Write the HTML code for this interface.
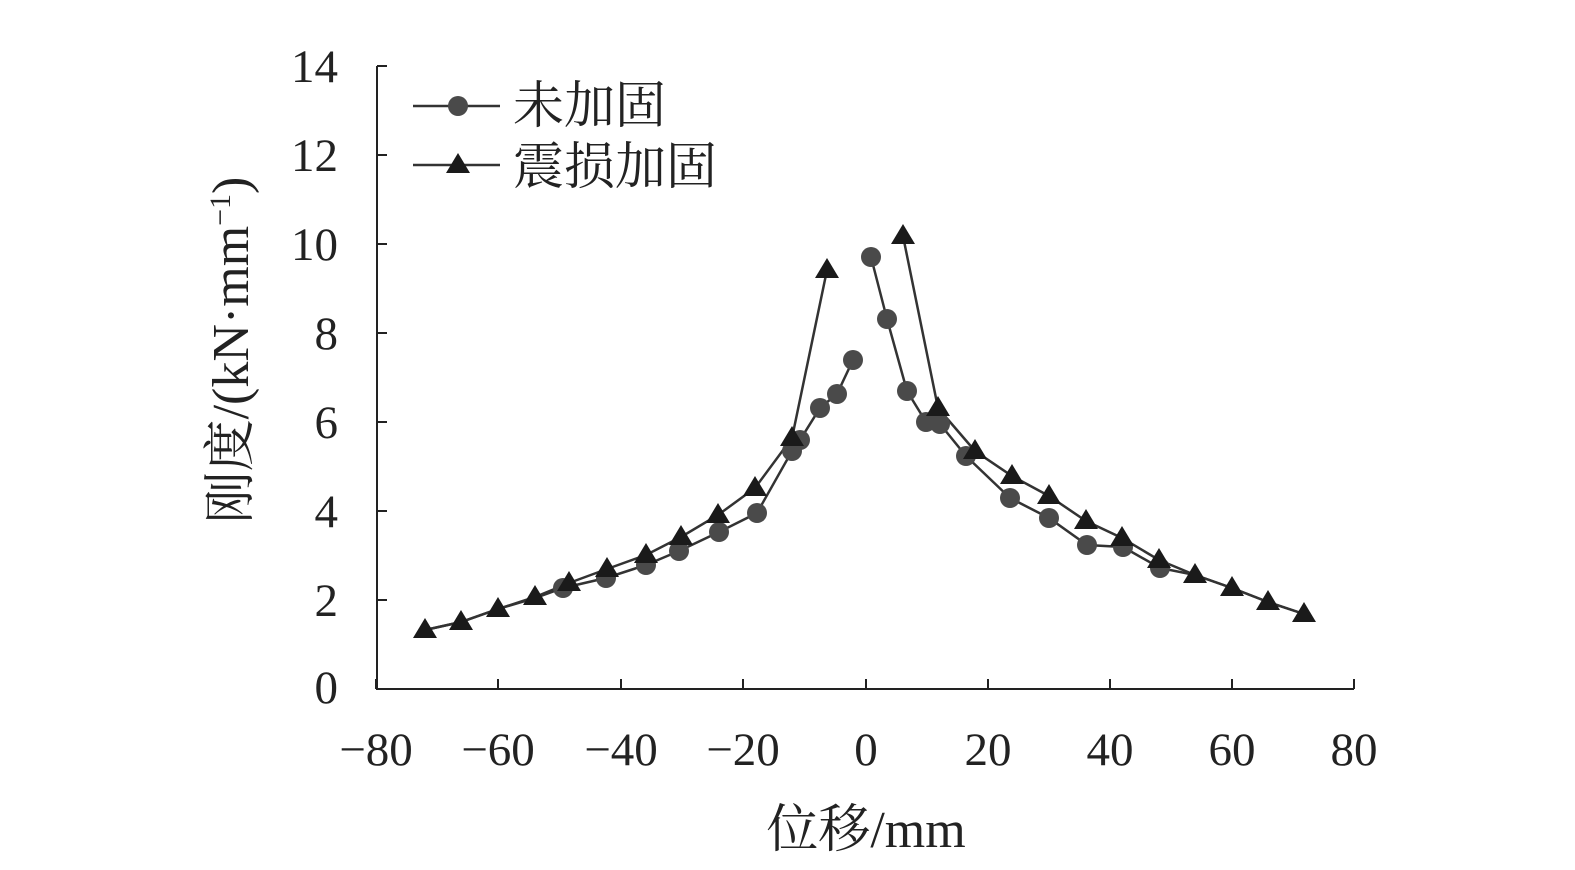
<!DOCTYPE html><html><head><meta charset="utf-8"><style>body{margin:0;background:#fff}svg{display:block}text{font-family:"Liberation Serif","Noto Serif CJK SC",serif;fill:#222}</style></head><body>
<svg width="1575" height="870" viewBox="0 0 1575 870">
<g stroke="#222" stroke-width="2" fill="none">
<path d="M377 66V689H1354"/>
<path d="M377 66h10M377 155h10M377 244h10M377 333h10M377 422h10M377 511h10M377 600h10"/>
<path d="M376 689v-10M498 689v-10M621 689v-10M743 689v-10M866 689v-10M988 689v-10M1110 689v-10M1232 689v-10M1354 689v-10"/>
</g>
<g font-size="47" text-anchor="end">
<text x="338" y="82">14</text><text x="338" y="171">12</text><text x="338" y="260">10</text><text x="338" y="349">8</text><text x="338" y="438">6</text><text x="338" y="527">4</text><text x="338" y="616">2</text><text x="338" y="703">0</text></g>
<g font-size="47" text-anchor="middle">
<text x="376" y="765">−80</text><text x="498" y="765">−60</text><text x="621" y="765">−40</text><text x="743" y="765">−20</text><text x="866" y="765">0</text><text x="988" y="765">20</text><text x="1110" y="765">40</text><text x="1232" y="765">60</text><text x="1354" y="765">80</text>
<text x="866" y="847" font-size="52">位移/mm</text></g>
<text transform="translate(248,350) rotate(-90)" font-size="52" text-anchor="middle">刚度/(kN·mm<tspan font-size="30" dy="-18">−1</tspan><tspan dy="18">)</tspan></text>
<g stroke="#333" stroke-width="2.5" fill="none">
<polyline points="425,630 461,622 498,609 535,598 563,588 606,578 646,565 679,551 719,532 757,513 792,451 800,440 820,408 837,394 853,360"/>
<polyline points="871,257 887,319 907,391 926,422 940,424 966,456 1010,498 1049,518 1087,545 1123,547 1160,568 1195,575 1232,588 1268,602 1304,614"/>
<polyline points="425,630 461,622 498,609 535,597 569,583 607,569 646,555 681,537 718,515 755,488 792,438 827,270"/>
<polyline points="903,236 938,408 975,451 1012,476 1049,496 1086,521 1122,538 1159,560 1195,575 1232,588 1268,602 1304,614"/>
<line x1="413" y1="106" x2="500" y2="106"/><line x1="413" y1="165" x2="500" y2="165"/>
</g>
<g fill="#4a4a4a">
<circle cx="563" cy="588" r="10"/><circle cx="606" cy="578" r="10"/><circle cx="646" cy="565" r="10"/><circle cx="679" cy="551" r="10"/><circle cx="719" cy="532" r="10"/><circle cx="757" cy="513" r="10"/><circle cx="792" cy="451" r="10"/><circle cx="800" cy="440" r="10"/><circle cx="820" cy="408" r="10"/><circle cx="837" cy="394" r="10"/><circle cx="853" cy="360" r="10"/><circle cx="871" cy="257" r="10"/><circle cx="887" cy="319" r="10"/><circle cx="907" cy="391" r="10"/><circle cx="926" cy="422" r="10"/><circle cx="940" cy="424" r="10"/><circle cx="966" cy="456" r="10"/><circle cx="1010" cy="498" r="10"/><circle cx="1049" cy="518" r="10"/><circle cx="1087" cy="545" r="10"/><circle cx="1123" cy="547" r="10"/><circle cx="1160" cy="568" r="10"/><circle cx="458" cy="106" r="10"/>
</g>
<g fill="#1a1a1a">
<path id="t" d="M0,-12 L12,8 L-12,8Z" transform="translate(425,630)"/>
<use href="#t" x="36" y="-8"/><use href="#t" x="73" y="-21"/><use href="#t" x="110" y="-33"/><use href="#t" x="144" y="-47"/><use href="#t" x="182" y="-61"/><use href="#t" x="221" y="-75"/><use href="#t" x="256" y="-93"/><use href="#t" x="293" y="-115"/><use href="#t" x="330" y="-142"/><use href="#t" x="367" y="-192"/><use href="#t" x="402" y="-360"/><use href="#t" x="478" y="-394"/><use href="#t" x="513" y="-222"/><use href="#t" x="550" y="-179"/><use href="#t" x="587" y="-154"/><use href="#t" x="624" y="-134"/><use href="#t" x="661" y="-109"/><use href="#t" x="697" y="-92"/><use href="#t" x="734" y="-70"/><use href="#t" x="770" y="-55"/><use href="#t" x="807" y="-42"/><use href="#t" x="843" y="-28"/><use href="#t" x="879" y="-16"/><use href="#t" x="33" y="-465"/>
</g>
<text x="513" y="123" font-size="51">未加固</text>
<text x="513" y="184" font-size="51">震损加固</text>
</svg></body></html>
